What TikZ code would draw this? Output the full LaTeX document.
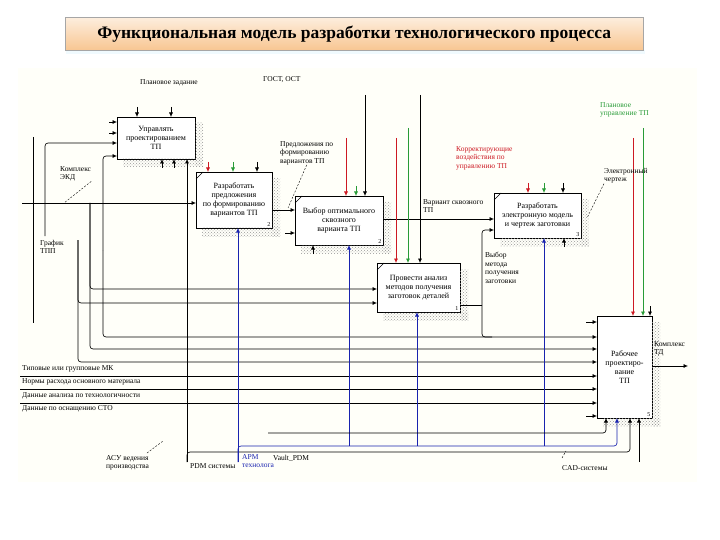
\documentclass[tikz,border=0pt]{standalone}
\usepackage{fontspec}
\setmainfont{Liberation Serif}
\usetikzlibrary{arrows.meta, calc, patterns}
\definecolor{cream}{RGB}{255,255,249}
\definecolor{peachtop}{RGB}{253,238,222}
\definecolor{peachbot}{RGB}{248,198,146}
\definecolor{ctrlred}{RGB}{205,25,35}
\definecolor{ctrlgreen}{RGB}{40,155,55}
\definecolor{mechblue}{RGB}{25,35,175}
\tikzset{%
    fbox/.style={draw=black, line width=0.7pt, fill=white, align=center, anchor=north west,
        inner sep=1pt, outer sep=0pt, font=\fontsize{8}{9}\selectfont},
    ln/.style={draw=black, line width=0.65pt},
    arr/.style={ln, -{Latex[length=4.5pt,width=4pt]}},
    rarr/.style={arr, draw=ctrlred},
    garr/.style={arr, draw=ctrlgreen},
    barr/.style={arr, draw=mechblue},
    lbl/.style={align=left, anchor=north west, inner sep=0pt, font=\fontsize{7.5}{8.5}\selectfont},
    tie/.style={draw=black, line width=0.4pt, dashed, dash pattern=on 2pt off 1.5pt},
    boxnum/.style={anchor=south east, inner sep=1.5pt, font=\fontsize{6}{6}\selectfont}
}
\begin{document}
\begin{tikzpicture}[x=1pt, y=-1pt, rc/.style={rounded corners=3pt},
    titlebox/.style={draw=gray!70, top color=peachtop, bottom color=peachbot, anchor=north west,
        font=\bfseries\fontsize{17.5}{20}\selectfont}]
\useasboundingbox (0,0) rectangle (720,540);
\fill[cyan!6] (66,50) rectangle (645,54);
\node[titlebox, minimum width=578pt, minimum height=33pt] (title) at (65,17)
    {Функциональная модель разработки технологического процесса};
\fill[cream] (18,68) rectangle (697,482);

% activity boxes
\node[fbox, minimum width=78pt, minimum height=42pt] (b1) at (117,117) {Управлять\\проектированием\\ТП};
\node[fbox, minimum width=76pt, minimum height=56pt] (b2) at (196,172) {Разработать\\предложения\\по формированию\\вариантов ТП};
\node[fbox, minimum width=88pt, minimum height=49pt] (b3) at (295,196) {Выбор оптимального\\сквозного\\варианта ТП};
\node[fbox, minimum width=83pt, minimum height=49pt] (b4) at (377,263) {Провести анализ\\методов получения\\заготовок деталей};
\node[fbox, minimum width=87pt, minimum height=45pt] (b5) at (494,193) {Разработать\\электронную модель\\и чертеж заготовки};
\node[fbox, minimum width=55pt, minimum height=102pt] (b6) at (597,316) {Рабочее\\проектиро-\\вание\\ТП};
\foreach \b in {b1,b2,b3,b4,b5,b6}{
    \fill[pattern=crosshatch dots, pattern color=gray!80] ($(\b.north east)+(0,6)$) rectangle ($(\b.south east)+(8,8)$);
    \fill[pattern=crosshatch dots, pattern color=gray!80] ($(\b.south west)+(6,0)$) rectangle ($(\b.south east)+(8,8)$);
}
\foreach \b in {b2,b3,b4,b5}
    \draw[ln, line width=0.4pt] ($(\b.north west)+(0,7)$) -- ($(\b.north west)+(7,0)$);
\node[boxnum] (n2) at (b2.south east) {2};
\node[boxnum] (n3) at (b3.south east) {2};
\node[boxnum] (n4) at (b4.south east) {1};
\node[boxnum] (n5) at (b5.south east) {3};
\node[boxnum] (n6) at (b6.south east) {5};

% inputs
\coordinate (s11) at (109,122);
\coordinate (s12) at (109,133);
\draw[arr] (s11) -- (s11 -| b1.west);
\draw[arr] (s12) -- (s12 -| b1.west);
\coordinate (grf) at (45,236);
\draw[arr, rc] (grf) |- (b1.west |- 0,143);
\draw[ln] (33,137) -- (33,323);
\coordinate (br1) at (103,250);
\draw[arr, rc] (br1) |- (b1.west |- 0,156);
\draw[arr, rc] (br1) |- (b6.west |- 0,337);
\coordinate (ekd) at (22,203);
\draw[arr] (ekd) -- (ekd -| b2.west);
\coordinate (br2) at (90,203);
\draw[arr, rc] (br2) |- (b4.west |- 0,289);
\draw[arr, rc] (br2) |- (b6.west |- 0,349);
\coordinate (br3) at (78,240);
\draw[arr, rc] (br3) |- (b4.west |- 0,303);
\draw[arr, rc] (br3) |- (b6.west |- 0,362);
\foreach \y in {376,389,403}{
    \coordinate (in\y) at (20,\y);
    \draw[arr] (in\y) -- (in\y -| b6.west);
}
\foreach \y in {322,416}{
    \coordinate (st\y) at (586,\y);
    \draw[arr] (st\y) -- (st\y -| b6.west);
}

% flows between boxes
\draw[arr] (b2.east |- 0,210) -- (b3.west |- 0,210);
\coordinate (s3) at (285,233);
\draw[arr] (s3) -- (s3 -| b3.west);
\draw[arr] (b3.east |- 0,219) -- (b5.west |- 0,219);
\coordinate (vm) at (482,305);
\draw[ln] (b4.east |- vm) -- (vm);
\draw[arr, rc] (vm) |- (b5.west |- 0,230);
\draw[ln, rc] (vm) |- (492,337);
\coordinate (ktd) at (688,366);
\draw[arr] (b6.east |- ktd) -- (ktd);

% controls
\foreach \b/\x/\s in {b1/137/arr, b1/171/arr, b2/208/rarr, b2/233/garr, b2/257/arr, b3/356/garr,
        b5/528/rarr, b5/544/garr, b5/563/arr, b6/650/arr}
    \draw[\s] ($(\x,0 |- \b.north)+(0,-10)$) -- (\x,0 |- \b.north);
\foreach \b/\x/\y/\s in {b3/346/138/rarr, b3/365/95/arr, b4/396/138/rarr, b4/408/128/garr,
        b4/420/95/arr, b6/633/138/rarr, b6/643/128/garr}{
    \coordinate (k\x) at (\x,\y);
    \draw[\s] (k\x) -- (k\x |- \b.north);
}

% mechanisms
\foreach \b/\x in {b1/162, b1/174, b3/313, b5/564}
    \draw[arr] ($(\x,0 |- \b.south)+(0,9)$) -- (\x,0 |- \b.south);
\coordinate (asu) at (187,462);
\draw[arr] (asu) -- (asu |- b1.south);
\draw[arr, rc] (asu) -- (187,452) -| ($(b6.south west)+(33,0)$);
\coordinate (arm) at (238,462);
\draw[barr] (arm) -- (arm |- b2.south);
\draw[barr, rc] (arm) -- (238,446) -| ($(b6.south west)+(20,0)$);
\foreach \b/\x in {b3/349, b4/417, b5/544}
    \draw[barr] (\x,446) -- (\x,0 |- \b.south);
\coordinate (m1) at (268,433);
\draw[arr, rc] (m1) -| ($(b6.south west)+(9,0)$);
\coordinate (cad) at (639,462);
\draw[arr] (cad) -- (cad |- b6.south);

% labels
\node[lbl] (tpz) at (140,79) {Плановое задание};
\node[lbl] (tgost) at (263,76) {ГОСТ, ОСТ};
\node[lbl] (tekd) at (60,166) {Комплекс\\ЭКД};
\node[lbl] (tgrf) at (40,240) {График\\ТПП};
\node[lbl] (tpred) at (280,141) {Предложения по\\формированию\\вариантов ТП};
\node[lbl, text=ctrlred] (tkor) at (456,146) {Корректирующие\\воздействия по\\управлению ТП};
\node[lbl, text=ctrlgreen] (tpu) at (600,102) {Плановое\\управление ТП};
\node[lbl] (tel) at (604,168) {Электронный\\чертеж};
\node[lbl] (tvar) at (423,199) {Вариант сквозного\\ТП};
\node[lbl] (tvm) at (485,252) {Выбор\\метода\\получения\\заготовки};
\node[lbl] (tktd) at (654,341) {Комплекс\\ТД};
\node[lbl] (tmk) at (22,365) {Типовые или групповые МК};
\node[lbl] (tnr) at (22,378) {Нормы расхода основного материала};
\node[lbl] (tdan) at (22,392) {Данные анализа по технологичности};
\node[lbl] (tsto) at (22,405) {Данные по оснащению СТО};
\node[lbl] (tasu) at (106,455) {АСУ ведения\\производства};
\node[lbl] (tpdm) at (190,463) {PDM системы};
\node[lbl, text=mechblue] (tarm) at (242,454) {АРМ\\технолога};
\node[lbl] (tvlt) at (273,455) {Vault\_PDM};
\node[lbl] (tcad) at (562,465) {CAD-системы};

% ties
\coordinate (jekd) at (64,203);
\draw[tie] (tekd.south east) -- (jekd);
\coordinate (jpred) at (288,208);
\draw[tie] (tpred.south) -- (jpred);
\coordinate (jel) at (587,218);
\draw[tie] (tel.south west) -- (jel);
\coordinate (jasu) at (147,453);
\draw[tie] (jasu) -- ++(16,-12);
\coordinate (jcad) at (562,458);
\draw[tie] (jcad) -- ++(4,-7);
\end{tikzpicture}
\end{document}
